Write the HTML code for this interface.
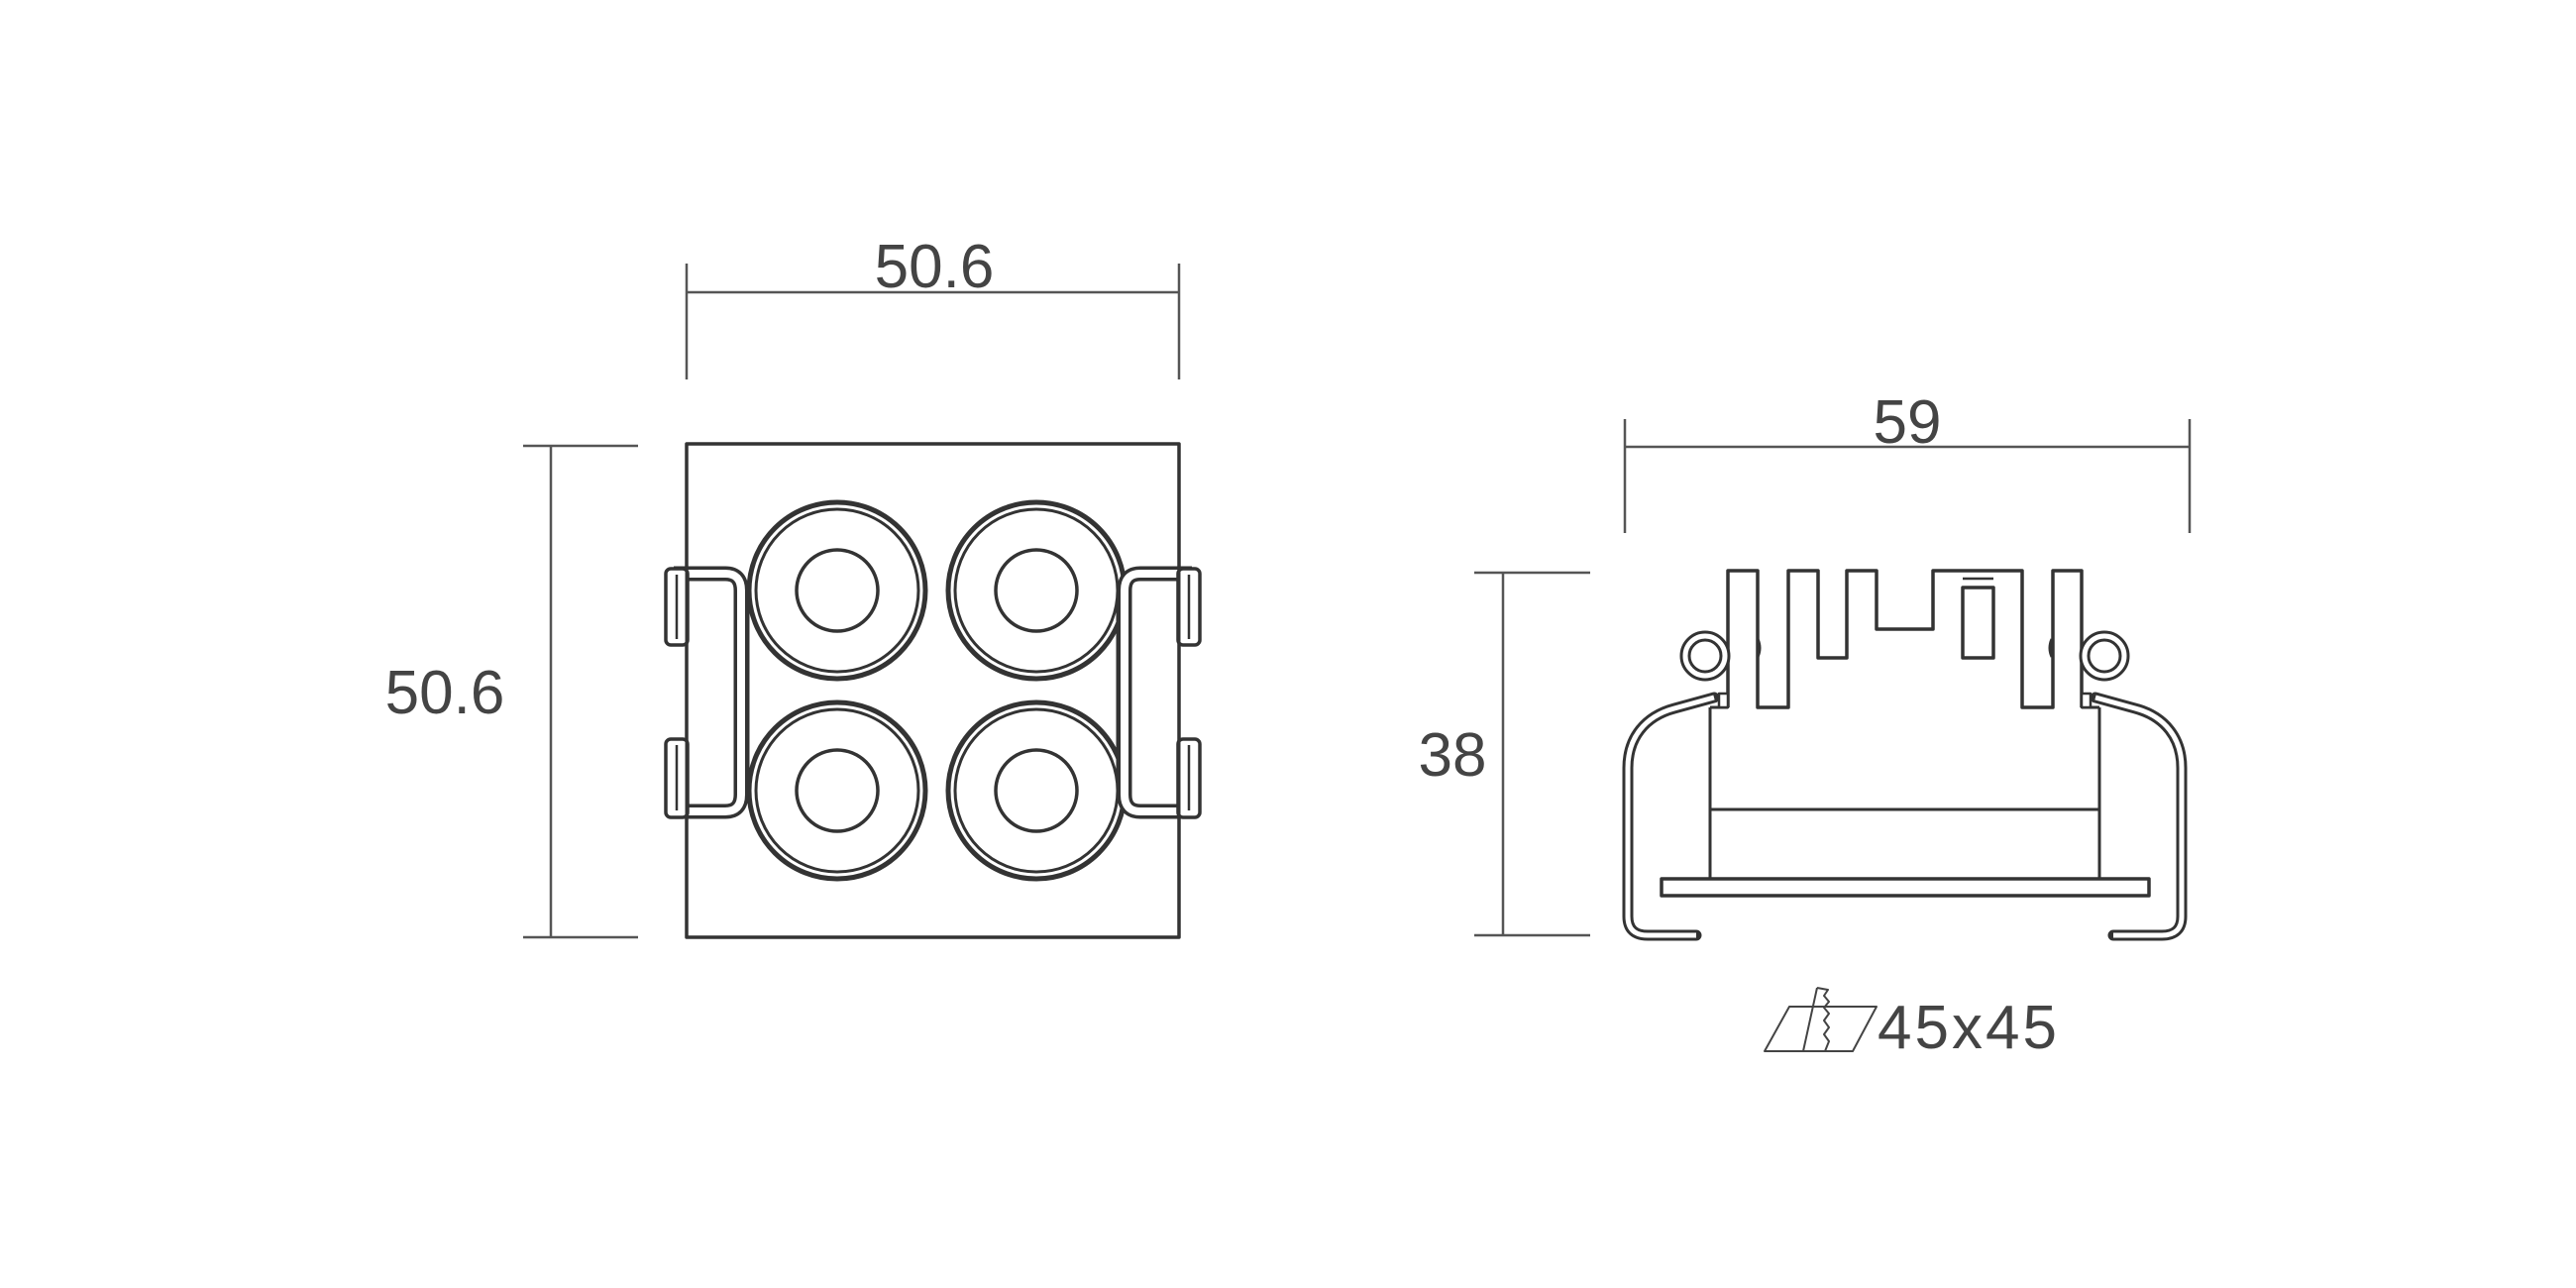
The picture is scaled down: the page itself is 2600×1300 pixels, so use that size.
<!DOCTYPE html>
<html><head><meta charset="utf-8"><style>
html,body{margin:0;padding:0;background:#fff}
svg{display:block}
text{font-family:"Liberation Sans",sans-serif;fill:#444;font-size:62px}
</style></head><body>
<svg width="2600" height="1300" viewBox="0 0 2600 1300" xmlns="http://www.w3.org/2000/svg">
<g fill="none" stroke="#333" stroke-linejoin="round">
<!-- LEFT VIEW dims -->
<g stroke="#555" stroke-width="2.5">
<line x1="693" y1="266" x2="693" y2="383"/>
<line x1="1190" y1="266" x2="1190" y2="383"/>
<line x1="693" y1="295" x2="1190" y2="295"/>
<line x1="528" y1="450" x2="644" y2="450"/>
<line x1="528" y1="946" x2="644" y2="946"/>
<line x1="556" y1="450" x2="556" y2="946"/>
</g>
<rect x="693" y="448" width="497" height="498" stroke-width="3.5"/>
<!-- circles -->
<g>
<circle cx="845" cy="596" r="89" stroke-width="5"/><circle cx="845" cy="596" r="82" stroke-width="3"/><circle cx="845" cy="596" r="41" stroke-width="3.5"/>
<circle cx="1046" cy="596" r="89" stroke-width="5"/><circle cx="1046" cy="596" r="82" stroke-width="3"/><circle cx="1046" cy="596" r="41" stroke-width="3.5"/>
<circle cx="845" cy="798" r="89" stroke-width="5"/><circle cx="845" cy="798" r="82" stroke-width="3"/><circle cx="845" cy="798" r="41" stroke-width="3.5"/>
<circle cx="1046" cy="798" r="89" stroke-width="5"/><circle cx="1046" cy="798" r="82" stroke-width="3"/><circle cx="1046" cy="798" r="41" stroke-width="3.5"/>
</g>
<!-- left clips -->
<g id="clipL">
<path d="M680,579 H732 Q748,579 748,596 V802 Q748,819 732,819 H680" stroke="#333" stroke-width="15"/>
<path d="M680,579 H732 Q748,579 748,596 V802 Q748,819 732,819 H680" stroke="#fff" stroke-width="8"/>
<rect x="672" y="574" width="22" height="77" rx="5" stroke-width="3.5" fill="#fff"/>
<line x1="683" y1="580" x2="683" y2="645" stroke-width="2.5"/>
<rect x="672" y="746" width="22" height="79" rx="5" stroke-width="3.5" fill="#fff"/>
<line x1="683" y1="752" x2="683" y2="818" stroke-width="2.5"/>
<line x1="693" y1="570" x2="693" y2="830" stroke-width="3"/>
<line x1="755" y1="600" x2="755" y2="800" stroke-width="3"/>
</g>
<use href="#clipL" transform="translate(1883,0) scale(-1,1)"/>

<!-- RIGHT VIEW dims -->
<g stroke="#555" stroke-width="2.5">
<line x1="1640" y1="423" x2="1640" y2="538"/>
<line x1="2210" y1="423" x2="2210" y2="538"/>
<line x1="1640" y1="451" x2="2210" y2="451"/>
<line x1="1488" y1="578" x2="1605" y2="578"/>
<line x1="1488" y1="944" x2="1605" y2="944"/>
<line x1="1517" y1="578" x2="1517" y2="944"/>
</g>
<!-- heatsink -->
<path stroke-width="3.5" d="M1744,714 V576 H1774 V714 H1805 V576 H1835 V664 H1864 V576 H1894 V635 H1951 V576 H2041 V714 H2072 V576 H2101 V714"/>
<rect x="1981" y="593" width="31" height="71" stroke-width="3.5"/>
<line x1="1981" y1="584" x2="2012" y2="584" stroke-width="2.5"/>
<line x1="1726" y1="714" x2="1744" y2="714" stroke-width="3"/>
<line x1="2101" y1="714" x2="2119" y2="714" stroke-width="3"/>
<line x1="1726" y1="714" x2="1726" y2="887" stroke-width="3"/>
<line x1="2119" y1="714" x2="2119" y2="887" stroke-width="3"/>
<line x1="1726" y1="817" x2="2119" y2="817" stroke-width="3"/>
<rect x="1677" y="887" width="492" height="17" stroke-width="3.5"/>
<!-- rings and side clips -->
<g id="sideL">
<circle cx="1721" cy="662" r="20" stroke="#333" stroke-width="11"/>
<circle cx="1721" cy="662" r="20" stroke="#fff" stroke-width="5"/>
<path d="M1730,704 L1690,715 C1660,723 1643,745 1643,775 L1643,925 C1643,938 1650,944 1663,944 L1712,944" stroke="#333" stroke-width="11" stroke-linecap="round"/>
<path d="M1730,704 L1690,715 C1660,723 1643,745 1643,775 L1643,925 C1643,938 1650,944 1663,944 L1712,944" stroke="#fff" stroke-width="5"/>
<rect x="1735" y="700" width="9" height="14" fill="#fff" stroke-width="2.5"/>
<path d="M1774,645 q4,9 0,18" stroke-width="3"/>
</g>
<use href="#sideL" transform="translate(3845,0) scale(-1,1)"/>
<!-- cutout symbol -->
<g stroke="#444" stroke-width="2">
<path d="M1781,1061 L1806,1016 H1894 L1870,1061 Z"/>
<line x1="1820" y1="1061" x2="1834" y2="997"/>
<path d="M1834,997 L1845,999 L1841,1005 L1846,1011 L1841,1017 L1846,1023 L1841,1030 L1846,1037 L1841,1044 L1846,1051 L1842,1061"/>
</g>
</g>
<text x="943" y="290" text-anchor="middle">50.6</text>
<text x="449" y="720" text-anchor="middle">50.6</text>
<text x="1925" y="447" text-anchor="middle">59</text>
<text x="1466" y="783" text-anchor="middle">38</text>
<text x="1895" y="1058" letter-spacing="3">45x45</text>
</svg>
</body></html>
